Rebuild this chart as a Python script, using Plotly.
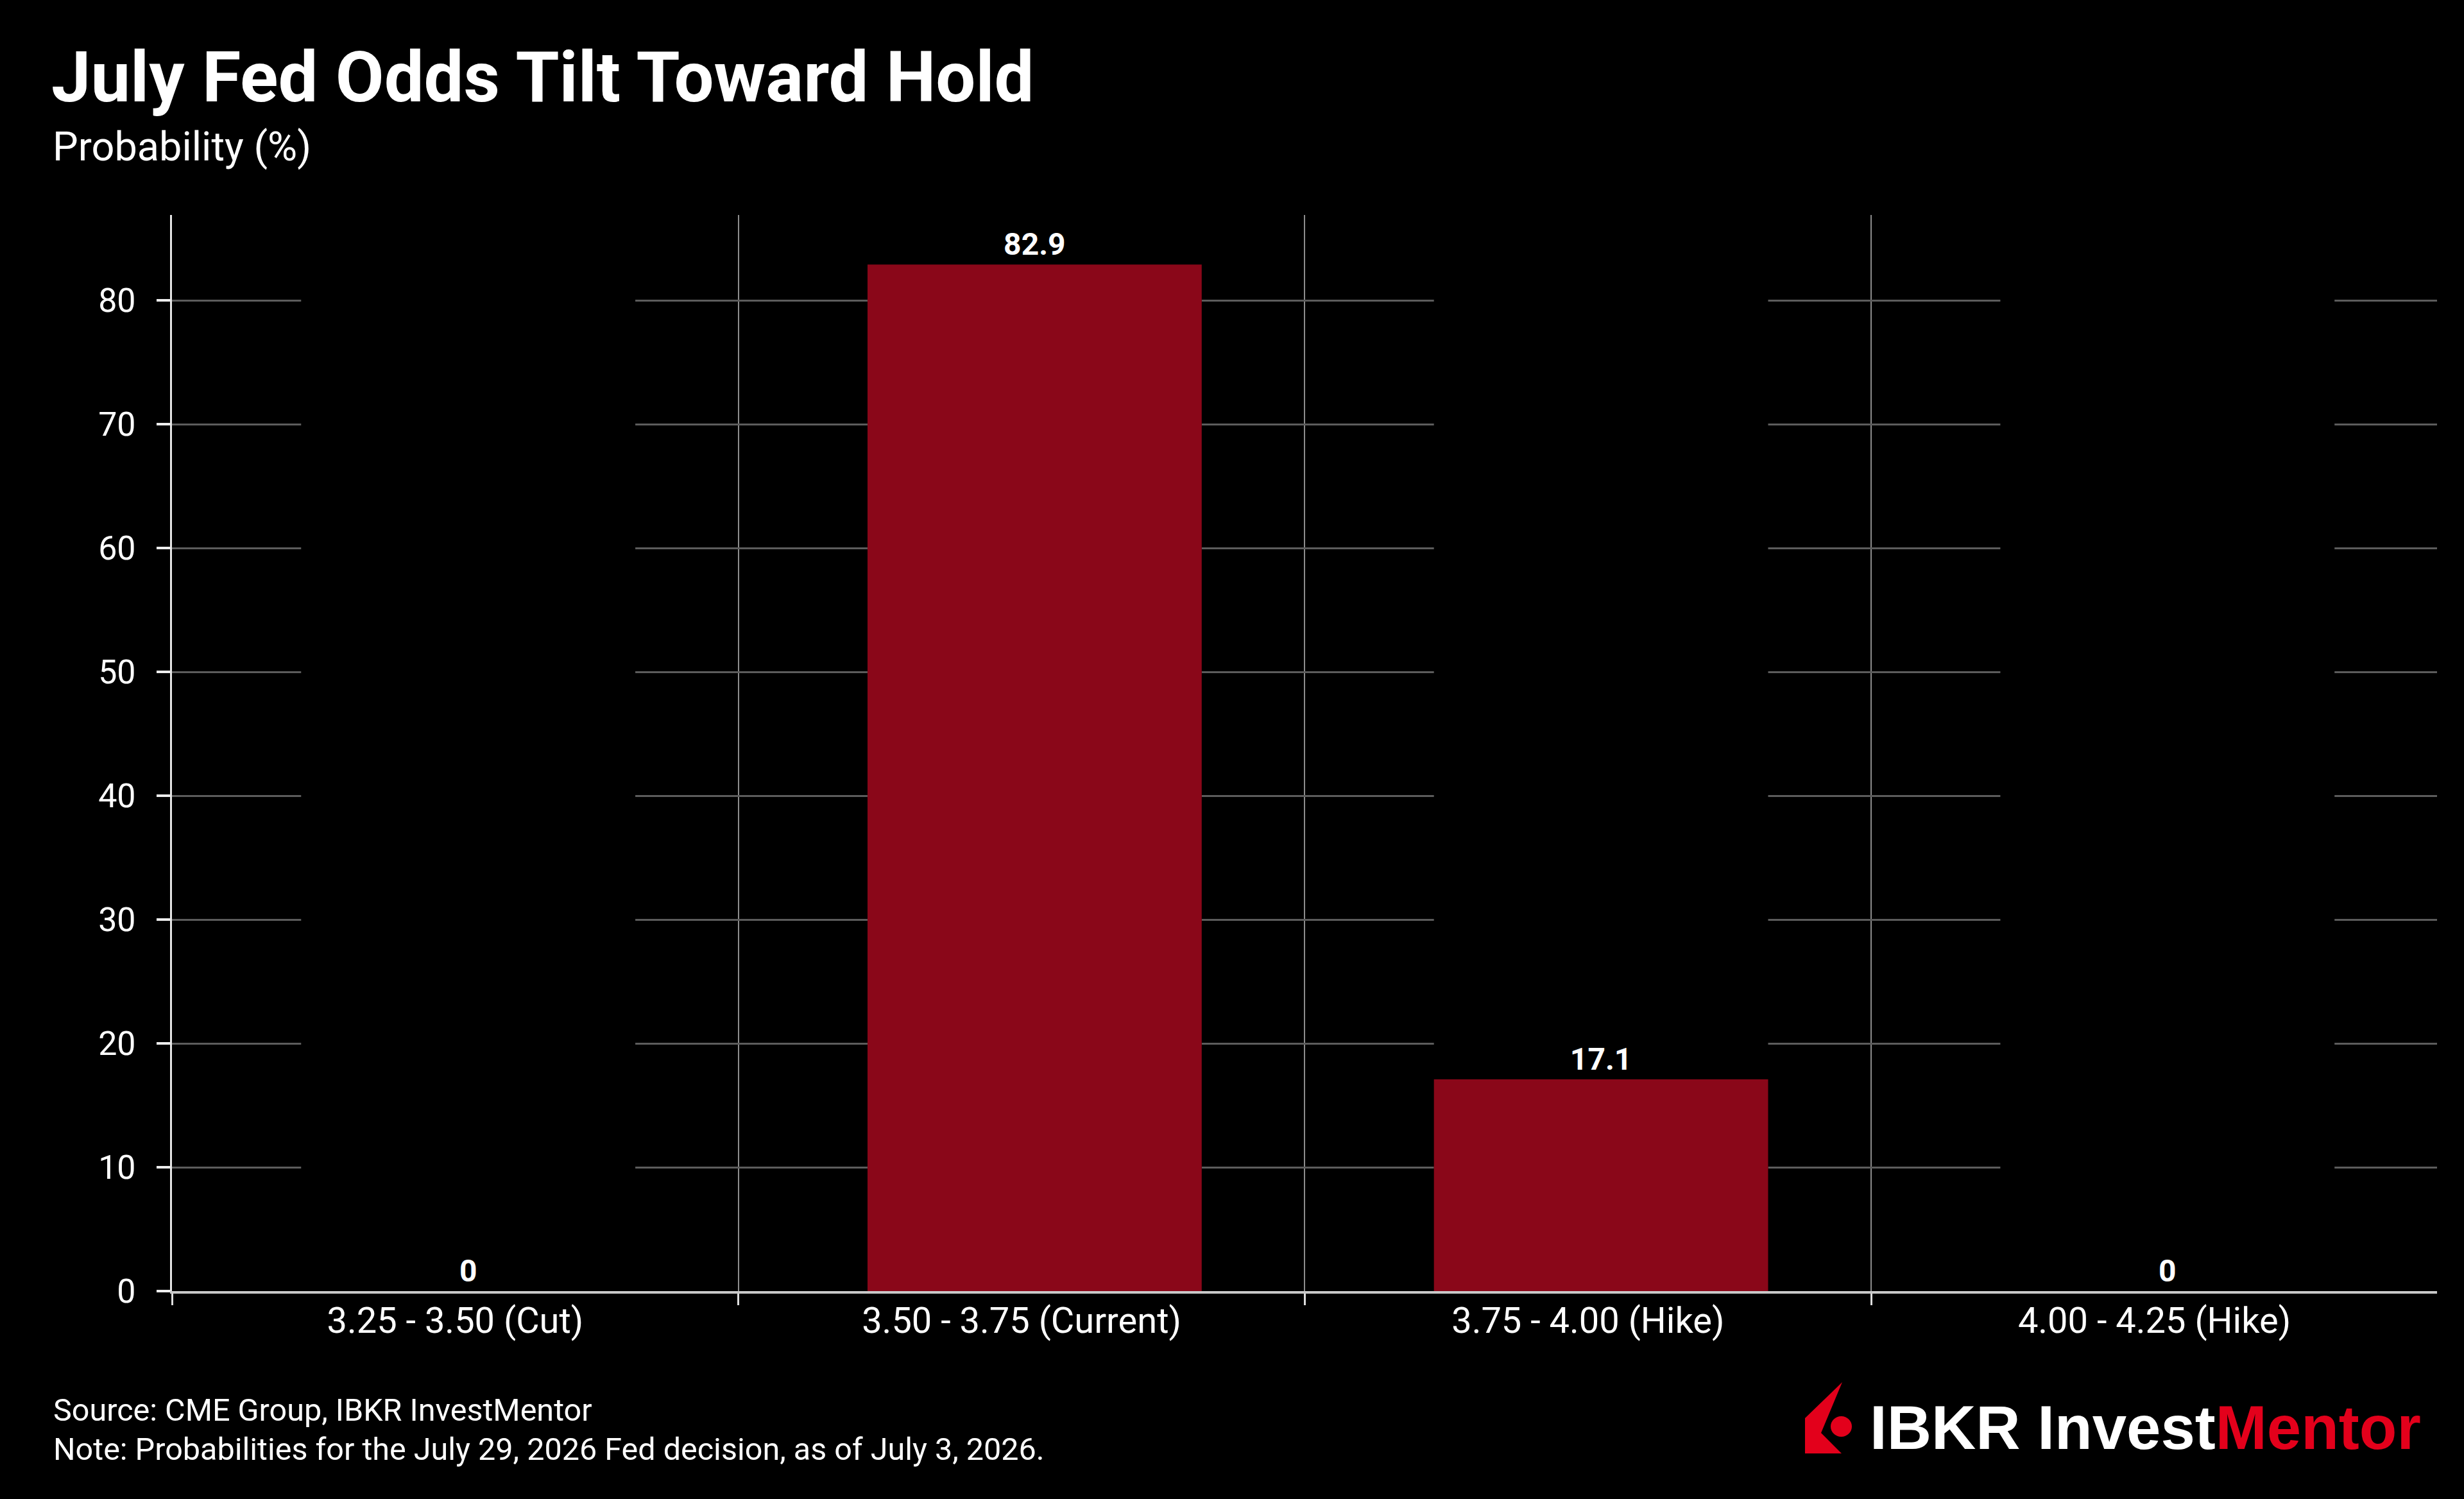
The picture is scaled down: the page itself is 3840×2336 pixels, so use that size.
import plotly.graph_objects as go

# ---------------- data ----------------
categories = ["3.25 - 3.50 (Cut)", "3.50 - 3.75 (Current)", "3.75 - 4.00 (Hike)", "4.00 - 4.25 (Hike)"]
probabilities = [0, 82.9, 17.1, 0]
value_labels = ["0", "82.9", "17.1", "0"]
y_ticks = [0, 10, 20, 30, 40, 50, 60, 70, 80]

title_text = "July Fed Odds Tilt Toward Hold"
subtitle_text = "Probability (%)"
source_text = "Source: CME Group, IBKR InvestMentor"
note_text = "Note: Probabilities for the July 29, 2026 Fed decision, as of July 3, 2026."

# ---------------- style ----------------
W, H = 3840, 2336
L, R, T, B = 268, 42, 335, 324
PW, PH = W - L - R, H - T - B
Y_MAX = 86.9
FONT = "Roboto, sans-serif"
BAR_COLOR = "#8a0719"
RED = "#e3001b"
BAR_OFFSET = -0.272
BAR_WIDTH = 0.59


def xp(px):
    return (px - L) / PW


def yp(py):
    return (H - B - py) / PH


fig = go.Figure()
fig.add_trace(go.Bar(
    x=categories,
    y=probabilities,
    text=value_labels,
    textposition="outside",
    texttemplate="%{text}",
    textfont=dict(family=FONT, size=48, color="white", weight="bold"),
    marker=dict(color=BAR_COLOR, line=dict(width=0)),
    offset=BAR_OFFSET,
    width=BAR_WIDTH,
    cliponaxis=False,
    hoverinfo="skip",
))

shapes = []
# black bands behind each bar column (interrupt horizontal gridlines)
for i, _ in enumerate(categories):
    shapes.append(dict(type="rect", xref="x", yref="y",
                       x0=i + BAR_OFFSET, x1=i + BAR_OFFSET + BAR_WIDTH, y0=0, y1=Y_MAX,
                       fillcolor="black", line=dict(width=0), layer="between"))

# logo icon
pts = [(2871, 2154), (2813, 2210), (2813, 2265), (2870, 2265), (2838, 2233)]
path = "M " + " L ".join(f"{xp(a):.5f},{yp(b):.5f}" for a, b in pts) + " Z"
shapes.append(dict(type="path", xref="paper", yref="paper", path=path,
                   fillcolor=RED, line=dict(width=0), layer="above"))
shapes.append(dict(type="circle", xref="paper", yref="paper",
                   x0=xp(2853), x1=xp(2886), y0=yp(2239), y1=yp(2207),
                   fillcolor=RED, line=dict(width=0), layer="above"))

annotations = [
    dict(text=f"<b>{title_text}</b>", x=xp(78), y=yp(120), xref="paper", yref="paper",
         xanchor="left", yanchor="middle", showarrow=False,
         font=dict(family=FONT, size=110, color="white")),
    dict(text=subtitle_text, x=xp(80), y=yp(228), xref="paper", yref="paper",
         xanchor="left", yanchor="middle", showarrow=False,
         font=dict(family=FONT, size=63, color="white")),
    dict(text=source_text, x=xp(81), y=yp(2197), xref="paper", yref="paper",
         xanchor="left", yanchor="middle", showarrow=False,
         font=dict(family=FONT, size=48.5, color="white")),
    dict(text=note_text, x=xp(81), y=yp(2258), xref="paper", yref="paper",
         xanchor="left", yanchor="middle", showarrow=False,
         font=dict(family=FONT, size=48.5, color="white")),
    dict(text=f"<b>IBKR Invest<span style='color:{RED}'>Mentor</span></b>",
         x=xp(2912), y=yp(2224), xref="paper", yref="paper",
         xanchor="left", yanchor="middle", showarrow=False,
         font=dict(family="Liberation Sans, Arial, sans-serif", size=96, color="white")),
]

fig.update_layout(
    width=W, height=H,
    margin=dict(l=L, r=R, t=T, b=B, pad=0),
    paper_bgcolor="black", plot_bgcolor="black",
    showlegend=False,
    bargap=0.4,
    shapes=shapes,
    annotations=annotations,
    font=dict(family=FONT, color="white"),
)

fig.update_xaxes(
    type="category",
    range=[-0.5, len(categories) - 0.5 - 0.001],
    tickson="boundaries",
    ticks="outside", ticklen=18, tickwidth=3, tickcolor="#dddddd",
    ticklabelstandoff=-6,
    showgrid=True, gridcolor="#8c8c8c", gridwidth=2,
    showline=True, linecolor="#c8c8c8", linewidth=4,
    tickfont=dict(family=FONT, size=56, color="white"),
    zeroline=False, fixedrange=True,
)
fig.update_yaxes(
    range=[0, Y_MAX],
    tickvals=y_ticks,
    ticks="outside", ticklen=21, tickwidth=4, tickcolor="#eeeeee",
    ticklabelstandoff=22,
    showgrid=True, gridcolor="#5c5c5c", gridwidth=3,
    showline=True, linecolor="#e6e6e6", linewidth=3,
    zeroline=False,
    tickfont=dict(family=FONT, size=52, color="white"),
    fixedrange=True,
)

fig.write_html("out.html")
